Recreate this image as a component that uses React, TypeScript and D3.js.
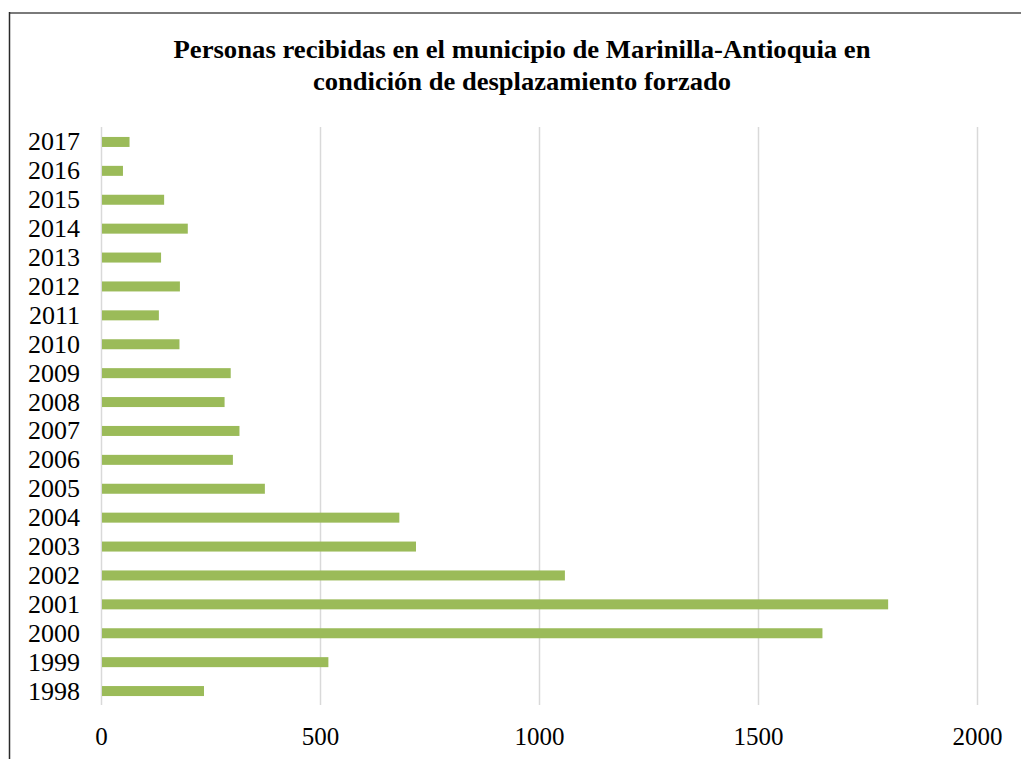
import React from "react";
import * as d3 from "d3";

const years = ["1998","1999","2000","2001","2002","2003","2004","2005","2006","2007","2008","2009","2010","2011","2012","2013","2014","2015","2016","2017"];
const values = [234, 518, 1646, 1796, 1058, 718, 680, 373, 300, 315, 281, 295, 178, 131, 179, 136, 197, 143, 49, 64];
const xTicks = [0, 500, 1000, 1500, 2000];
const titleLines = ["Personas recibidas en el municipio de Marinilla-Antioquia en", "condición de desplazamiento forzado"];
const titleWidths = [697, 418];

export default function App() {
  const W = 1021, H = 759;
  const x = d3.scaleLinear().domain([0, 2000]).range([101.5, 977.5]);
  const y = d3.scaleBand<string>().domain([...years].reverse()).range([127.5, 705.5]).paddingInner(0.654).paddingOuter(0.327);
  const font = "'Liberation Serif', 'Times New Roman', serif";
  return (
    <svg width={W} height={H} style={{ position: "absolute", left: 0, top: 0, background: "#fff" }}>
      <rect x={0} y={0} width={W} height={H} fill="#fff" />
      <line x1={9} x2={W} y1={13} y2={13} stroke="#7a7a7a" strokeWidth={2} />
      <line x1={9.5} x2={9.5} y1={12} y2={H} stroke="#2a2a2a" strokeWidth={1.5} />
      {titleLines.map((t, i) => (
        <text key={i} x={522} y={58 + i * 32} textAnchor="middle" fontFamily={font} fontWeight="bold" fontSize={25} fill="#000"
          textLength={titleWidths[i]} lengthAdjust="spacingAndGlyphs">{t}</text>
      ))}
      {xTicks.map((t) => (
        <g key={t}>
          <line x1={x(t)} x2={x(t)} y1={127} y2={705} stroke="#d9d9d9" strokeWidth={1.5} />
          <text x={x(t)} y={745} textAnchor="middle" fontFamily={font} fontSize={25} fill="#000">{t}</text>
        </g>
      ))}
      {years.map((yr, i) => (
        <g key={yr}>
          <rect x={x(0) + 0.5} y={y(yr)!} width={x(values[i]) - x(0) - 0.5} height={y.bandwidth()} fill="#9BBB59" />
          <text x={80} y={y(yr)! + y.bandwidth() / 2 + 8.5} textAnchor="end" fontFamily={font} fontSize={26} fill="#000">{yr}</text>
        </g>
      ))}
    </svg>
  );
}
